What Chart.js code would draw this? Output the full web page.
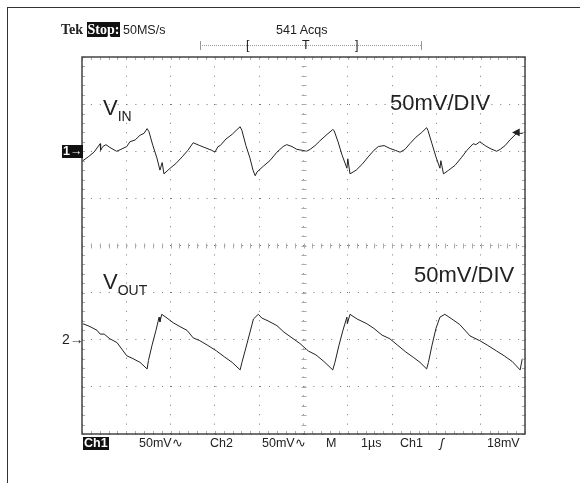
<!DOCTYPE html>
<html>
<head>
<meta charset="utf-8">
<script src="https://cdn.jsdelivr.net/npm/chart.js@4/dist/chart.umd.min.js"></script>
<style>
  html, body { margin: 0; padding: 0; background: #fff; }
  #wrap { position: relative; width: 580px; height: 483px; overflow: hidden; }
  #frame { position: absolute; left: 7px; top: 7px; width: 580px; height: 490px; border: 1.5px solid #333; box-sizing: border-box; }
  canvas { position: absolute; left: 0; top: 0; }
  .t { position: absolute; font-family: "Liberation Sans", Arial, sans-serif; color: #222; white-space: nowrap; line-height: 1; }
  .hud { font-size: 12.5px; }
  .inv { background: #111; color: #fff; padding: 0 1px; }
  .big { font-size: 22px; }
  .big sub { font-size: 14px; vertical-align: -6px; }
</style>
</head>
<body>
<div id="wrap">
  <div id="frame"></div>
  <canvas id="scope" width="580" height="483"></canvas>
  <div class="t" style="left:61px;top:23px;font-family:'Liberation Serif',serif;font-weight:bold;font-size:14px">Tek <span class="inv">Stop:</span></div>
  <div class="t hud" style="left:123px;top:24px">50MS/s</div>
  <div class="t hud" style="left:276px;top:24px">541 Acqs</div>
  <div class="t hud" style="left:246px;top:39px">[</div>
  <div class="t hud" style="left:302px;top:39px">T</div>
  <div class="t hud" style="left:355px;top:39px">]</div>
  <div class="t big" style="left:103px;top:97px">V<sub>IN</sub></div>
  <div class="t big" style="left:390px;top:92px">50mV/DIV</div>
  <div class="t big" style="left:103px;top:271px">V<sub>OUT</sub></div>
  <div class="t big" style="left:414px;top:264px">50mV/DIV</div>
  <div class="t hud inv" style="left:62px;top:145px;font-weight:bold">1→</div>
  <div class="t" style="left:62px;top:332px;font-size:14px">2→</div>
  <div class="t hud inv" style="left:83px;top:437px;font-weight:bold">Ch1</div>
  <div class="t hud" style="left:139px;top:437px">50mV∿</div>
  <div class="t hud" style="left:210px;top:437px">Ch2</div>
  <div class="t hud" style="left:262px;top:437px">50mV∿</div>
  <div class="t hud" style="left:326px;top:437px">M</div>
  <div class="t hud" style="left:361px;top:437px">1µs</div>
  <div class="t hud" style="left:400px;top:437px">Ch1</div>
  <div class="t hud" style="left:440px;top:437px;font-style:italic">ʃ</div>
  <div class="t hud" style="left:487px;top:437px">18mV</div>
  <div class="t" style="left:512px;top:127px;font-size:10px">◀</div>
</div>
<script>
// time in µs (1 µs/div), voltage in mV relative to each channel's ground marker
const vinTime = [0.02, 0.14, 0.27, 0.41, 0.42, 0.47, 0.54, 0.63, 0.78, 0.88, 1.01, 1.08, 1.2, 1.31, 1.4, 1.47, 1.51, 1.6, 1.69, 1.76, 1.81, 1.85, 1.99, 2.12, 2.26, 2.39, 2.51, 2.66, 2.82, 2.93, 3.0, 3.07, 3.12, 3.25, 3.39, 3.5, 3.57, 3.61, 3.7, 3.79, 3.86, 3.91, 3.95, 4.09, 4.24, 4.4, 4.54, 4.62, 4.74, 4.85, 4.97, 5.07, 5.15, 5.26, 5.37, 5.51, 5.66, 5.69, 5.78, 5.87, 5.98, 6.0, 6.05, 6.19, 6.32, 6.46, 6.59, 6.69, 6.82, 6.95, 7.07, 7.18, 7.29, 7.4, 7.54, 7.67, 7.78, 7.81, 7.9, 7.99, 8.08, 8.1, 8.16, 8.28, 8.42, 8.56, 8.69, 8.83, 8.89, 8.98, 9.1, 9.21, 9.36, 9.44, 9.55, 9.66, 9.81, 9.95];
const vinMv = [-10, -6, -1, 8, 1, 5, 7, 4, 0, 2, 5, 10, 12, 17, 19, 24, 21, 6, -7, -20, -12, -24, -18, -13, -6, 1, 9, 6, 3, 1, -1, 5, 6, 13, 18, 23, 26, 22, 6, -7, -20, -26, -22, -16, -10, -1, 5, 7, 5, 2, 1, 0, 2, 6, 11, 17, 23, 22, 10, -4, -18, -8, -24, -20, -14, -6, 1, 5, 6, 3, 1, -1, 2, 8, 15, 20, 25, 22, 8, -6, -18, -10, -24, -20, -15, -7, 1, 8, 7, 10, 6, 3, 0, 2, 6, 12, 19, 19];
const voutTime = [0.02, 0.18, 0.34, 0.41, 0.5, 0.63, 0.79, 1.01, 1.15, 1.31, 1.47, 1.5, 1.58, 1.67, 1.74, 1.76, 1.8, 1.92, 2.06, 2.21, 2.37, 2.51, 2.66, 2.84, 3.04, 3.21, 3.39, 3.57, 3.61, 3.68, 3.77, 3.87, 3.98, 4.06, 4.2, 4.4, 4.56, 4.74, 4.92, 5.11, 5.28, 5.46, 5.66, 5.71, 5.8, 5.89, 5.98, 5.99, 6.05, 6.21, 6.43, 6.59, 6.77, 6.95, 7.13, 7.31, 7.49, 7.63, 7.78, 7.82, 7.9, 7.99, 8.08, 8.19, 8.35, 8.53, 8.76, 8.98, 9.16, 9.36, 9.53, 9.71, 9.89, 9.94];
const voutMv = [17, 14, 10, 6, 6, 1, -3, -17, -20, -24, -31, -22, -6, 10, 24, 19, 27, 23, 18, 14, 10, 2, -1, -6, -12, -18, -24, -32, -24, -12, 4, 22, 27, 23, 20, 15, 8, 2, -4, -12, -16, -23, -32, -24, -6, 10, 24, 17, 27, 22, 17, 12, 5, 1, -6, -13, -19, -24, -31, -24, -6, 12, 24, 27, 22, 16, 4, -1, -6, -12, -17, -23, -32, -20];
const ch1Offset = 100;   // 2 divisions above centre
const ch2Offset = -100;  // 2 divisions below centre
const xTicks = [0, 1, 2, 3, 4, 5, 6, 7, 8, 9, 10];
const yTicks = [-200, -150, -100, -50, 0, 50, 100, 150, 200];

const toPoints = (t, v, off) => t.map((x, i) => ({ x, y: v[i] + off }));

// graticule: minor ticks on centre lines and screen edges, plus the border
const graticule = {
  id: 'graticule',
  afterDraw(chart) {
    const { ctx, chartArea: a, scales: { x, y } } = chart;
    const cx = x.getPixelForValue(5), cy = y.getPixelForValue(0);
    ctx.save();
    ctx.strokeStyle = '#aaa';
    ctx.lineWidth = 1;
    ctx.beginPath();
    for (let v = 0; v <= 10.001; v += 0.2) {
      const px = Math.round(x.getPixelForValue(v)) + 0.5;
      ctx.moveTo(px, cy - 2); ctx.lineTo(px, cy + 3);
      ctx.moveTo(px, a.top); ctx.lineTo(px, a.top + 3);
      ctx.moveTo(px, a.bottom); ctx.lineTo(px, a.bottom - 3);
    }
    for (let v = -200; v <= 200.001; v += 10) {
      const py = Math.round(y.getPixelForValue(v)) + 0.5;
      ctx.moveTo(cx - 2, py); ctx.lineTo(cx + 3, py);
      ctx.moveTo(a.left, py); ctx.lineTo(a.left + 3, py);
      ctx.moveTo(a.right, py); ctx.lineTo(a.right - 3, py);
    }
    ctx.stroke();
    ctx.strokeStyle = '#444';
    ctx.lineWidth = 1.5;
    ctx.strokeRect(a.left, a.top, a.right - a.left, a.bottom - a.top);
    // record-length bar above the screen
    ctx.strokeStyle = '#999';
    ctx.lineWidth = 1;
    ctx.setLineDash([1, 1]);
    ctx.beginPath();
    ctx.moveTo(200, 45.5); ctx.lineTo(422, 45.5);
    ctx.stroke();
    ctx.setLineDash([]);
    ctx.beginPath();
    ctx.moveTo(200.5, 41); ctx.lineTo(200.5, 50);
    ctx.moveTo(421.5, 41); ctx.lineTo(421.5, 50);
    ctx.stroke();
    ctx.restore();
  }
};

new Chart(document.getElementById('scope'), {
  type: 'scatter',
  data: {
    datasets: [
      { label: 'VIN', data: toPoints(vinTime, vinMv, ch1Offset), showLine: true, borderColor: '#222', borderWidth: 1, pointRadius: 0, tension: 0 },
      { label: 'VOUT', data: toPoints(voutTime, voutMv, ch2Offset), showLine: true, borderColor: '#222', borderWidth: 1, pointRadius: 0, tension: 0 },
    ],
  },
  options: {
    responsive: false,
    animation: false,
    layout: { padding: { left: 82, right: 55, top: 57, bottom: 49 } },
    plugins: { legend: { display: false }, tooltip: { enabled: false } },
    scales: {
      x: {
        type: 'linear', min: 0, max: 10,
        afterBuildTicks: s => { s.ticks = xTicks.map(v => ({ value: v })); },
        ticks: { display: false },
        border: { display: false, dash: [1, 8.4] },
        grid: { color: '#777', lineWidth: 1, drawTicks: false, tickLength: 0 },
      },
      y: {
        type: 'linear', min: -200, max: 200,
        afterBuildTicks: s => { s.ticks = yTicks.map(v => ({ value: v })); },
        ticks: { display: false },
        border: { display: false, dash: [1, 7.9] },
        grid: { color: '#777', lineWidth: 1, drawTicks: false, tickLength: 0 },
      },
    },
  },
  plugins: [graticule],
});
</script>
</body>
</html>
